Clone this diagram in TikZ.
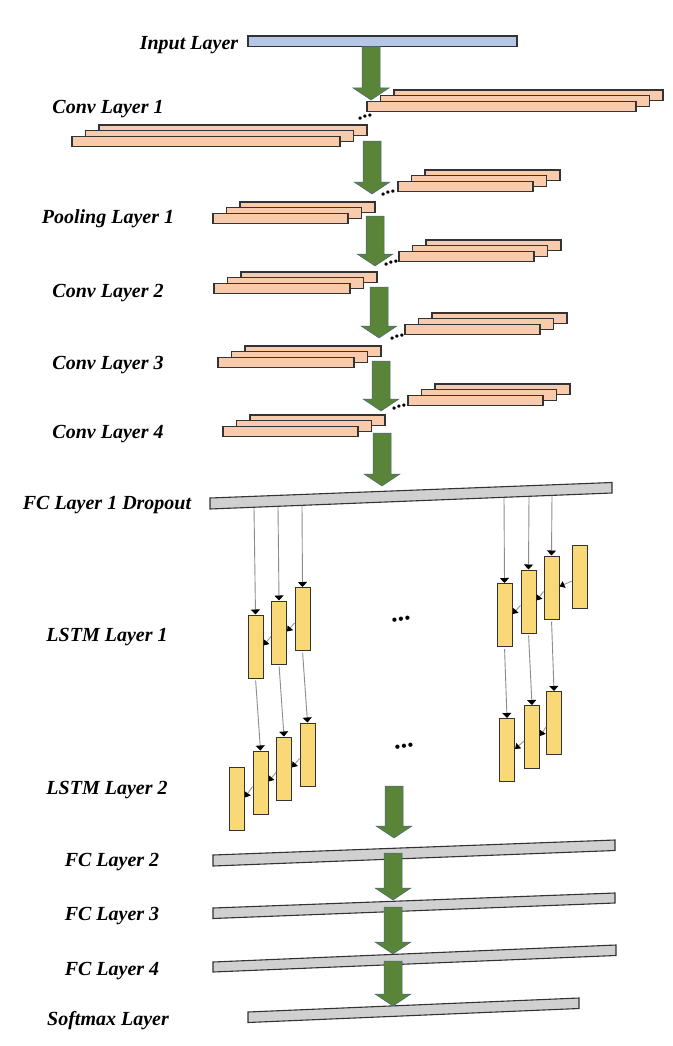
\documentclass[tikz,border=0pt]{standalone}
\usepackage{fontspec}
\setmainfont{Liberation Serif}
\usetikzlibrary{calc,arrows.meta}
\definecolor{peachc}{HTML}{F8CBAD}
\definecolor{bluec}{HTML}{B4C7E7}
\definecolor{grayc}{HTML}{D0D0D0}
\definecolor{cellc}{HTML}{F9D878}
\definecolor{edgec}{HTML}{333333}
\definecolor{greenc}{HTML}{5A8538}
\definecolor{gedgec}{HTML}{4A6486}
\newcommand\convstack[3]{%
  \draw[convbar] (#1+27,#2) rectangle ++(#3,10.5);
  \draw[convbar] (#1+13.5,#2+5.7) rectangle ++(#3,10.5);
  \draw[convbar] (#1,#2+11.4) rectangle ++(#3,10.5);}
\newcommand\garrow[2]{%
  \filldraw[garrowst] ($(#1)+(-9,0)$) -- ($(#2)+(-9,-12)$) -- ($(#2)+(-18,-12)$) -- (#2)
    -- ($(#2)+(18,-12)$) -- ($(#2)+(9,-12)$) -- ($(#1)+(9,0)$) -- cycle;}
\begin{document}
\begin{tikzpicture}[x=1pt,y=-1pt,
  lbl/.style={font=\fontsize{20}{24}\selectfont\bfseries\itshape, inner sep=0pt},
  convbar/.style={fill=peachc, draw=edgec, line width=1.1pt},
  graybar/.style={fill=grayc, draw=edgec, line width=1.1pt},
  garrowst/.style={fill=greenc, draw=gedgec, line width=0.5pt},
  cell/.style={rectangle, fill=cellc, draw=edgec, line width=1pt, minimum width=15pt, minimum height=63pt, inner sep=0pt},
  varrow/.style={draw=black!45, line width=0.9pt, -{Triangle[width=9pt,length=5pt,color=black]}},
  darrow/.style={draw=black!40, line width=0.9pt, -{Triangle[width=7pt,length=5pt,color=black]}},
  dots/.style={font=\fontsize{20}{20}\selectfont\bfseries, inner sep=0pt, rotate=14},
  bigdots/.style={font=\fontsize{26}{26}\selectfont\bfseries, inner sep=0pt, rotate=10}
]
\useasboundingbox (0,0) rectangle (672,1046);
\fill[white] (0,0) rectangle (672,1046);

% labels
\node[lbl] (lin) at (189,45) {Input Layer};
\node[lbl] (lc1) at (108,109) {Conv Layer 1};
\node[lbl] (lp1) at (108,219) {Pooling Layer 1};
\node[lbl] (lc2) at (108,293) {Conv Layer 2};
\node[lbl] (lc3) at (108,365) {Conv Layer 3};
\node[lbl] (lc4) at (108,434) {Conv Layer 4};
\node[lbl] (lfc1) at (107,505) {FC Layer 1 Dropout};
\node[lbl] (ll1) at (107,637) {LSTM Layer 1};
\node[lbl] (ll2) at (107,790) {LSTM Layer 2};
\node[lbl] (lfc2) at (112,862) {FC Layer 2};
\node[lbl] (lfc3) at (112,916) {FC Layer 3};
\node[lbl] (lfc4) at (112,971) {FC Layer 4};
\node[lbl] (lsm) at (108,1021) {Softmax Layer};

% input bar
\draw[fill=bluec, draw=edgec, line width=1.1pt] (248,36) rectangle (517,46.5);

% conv stacks
\convstack{367}{90}{269}
\convstack{72}{125}{268}
\convstack{398}{170}{135}
\convstack{213}{202}{135}
\convstack{399}{240}{135}
\convstack{214}{272}{136}
\convstack{405}{313}{135}
\convstack{218}{346}{136}
\convstack{408}{384}{135}
\convstack{223}{415}{135}

% dots between stacks
\node[dots] (d1) at (365,117) {...};
\node[dots] (d2) at (388,193) {...};
\node[dots] (d3) at (391,263) {...};
\node[dots] (d4) at (397,337) {...};
\node[dots] (d5) at (399,407) {...};

% FC bars
\draw[graybar] (210,498) -- (612,482.5) -- (612,493) -- (210,509) -- cycle;
\draw[graybar] (213,855) -- (615,840) -- (615,850.5) -- (213,866) -- cycle;
\draw[graybar] (213,908) -- (615,893) -- (615,903) -- (213,918.5) -- cycle;
\draw[graybar] (213,962) -- (616,945) -- (616,955.5) -- (213,972) -- cycle;
\draw[graybar] (248,1012) -- (579,998) -- (579,1008.5) -- (248,1022.5) -- cycle;

% LSTM layer 1
\node[cell] (a) at (255.5,646.5) {};
\node[cell] (b) at (279,632.5) {};
\node[cell] (c) at (302.5,619) {};
\node[cell] (d) at (504.5,615) {};
\node[cell] (e) at (528.5,601.5) {};
\node[cell] (f) at (551.5,587.5) {};
\node[cell] (g) at (580,577) {};
% LSTM layer 2
\node[cell] (h) at (237,798.5) {};
\node[cell] (i) at (260.5,782.5) {};
\node[cell] (j) at (284,768.5) {};
\node[cell] (k) at (307.5,754.5) {};
\node[cell] (l) at (507,750) {};
\node[cell] (m) at (532,737) {};
\node[cell] (n) at (554,723) {};

\node[bigdots] (e1) at (401,619) {...};
\node[bigdots] (e2) at (404,746) {...};

% taps on FC1 bar
\coordinate (ta) at (254,507.5);
\coordinate (tb) at (278,506.5);
\coordinate (tc) at (302,505.5);
\coordinate (td) at (504,497.5);
\coordinate (te) at (529,496.5);
\coordinate (tf) at (552,495.5);
\draw[varrow] (ta) -- (a.north);
\draw[varrow] (tb) -- (b.north);
\draw[varrow] (tc) -- (c.north);
\draw[varrow] (td) -- (d.north);
\draw[varrow] (te) -- (e.north);
\draw[varrow] (tf) -- (f.north);

% layer 1 -> layer 2
\draw[varrow, shorten <=2pt] (a.south) -- (i.north);
\draw[varrow, shorten <=2pt] (b.south) -- (j.north);
\draw[varrow, shorten <=2pt] (c.south) -- (k.north);
\draw[varrow, shorten <=2pt] (d.south) -- (l.north);
\draw[varrow, shorten <=2pt] (e.south) -- (m.north);
\draw[varrow, shorten <=2pt] (f.south) -- (n.north);

% recurrent arrows
\draw[darrow] ([yshift=-4pt]b.west) -- ([yshift=1pt]a.east);
\draw[darrow] ([yshift=-4pt]c.west) -- ([yshift=1pt]b.east);
\draw[darrow] ([yshift=-4pt]e.west) -- ([yshift=1pt]d.east);
\draw[darrow] ([yshift=-4pt]f.west) -- ([yshift=1pt]e.east);
\draw[darrow] ([yshift=-4pt]g.west) -- ([yshift=1pt]f.east);
\draw[darrow] ([yshift=-4pt]i.west) -- ([yshift=1pt]h.east);
\draw[darrow] ([yshift=-4pt]j.west) -- ([yshift=1pt]i.east);
\draw[darrow] ([yshift=-4pt]k.west) -- ([yshift=1pt]j.east);
\draw[darrow] ([yshift=-4pt]m.west) -- ([yshift=1pt]l.east);
\draw[darrow] ([yshift=-4pt]n.west) -- ([yshift=1pt]m.east);

% green arrows
\coordinate (g1s) at (371,46.5);  \coordinate (g1e) at (371,100);
\coordinate (g2s) at (372,141);   \coordinate (g2e) at (372,194);
\coordinate (g3s) at (375,216);   \coordinate (g3e) at (375,266);
\coordinate (g4s) at (379,287);   \coordinate (g4e) at (379,338);
\coordinate (g5s) at (381,361);   \coordinate (g5e) at (381,411);
\coordinate (g6s) at (382,433);   \coordinate (g6e) at (382,486);
\coordinate (g7s) at (394,786);   \coordinate (g7e) at (394,838);
\coordinate (g8s) at (393,853);   \coordinate (g8e) at (393,900);
\coordinate (g9s) at (393,907);   \coordinate (g9e) at (393,954);
\coordinate (g10s) at (393,961);  \coordinate (g10e) at (393,1006);
\garrow{g1s}{g1e}
\garrow{g2s}{g2e}
\garrow{g3s}{g3e}
\garrow{g4s}{g4e}
\garrow{g5s}{g5e}
\garrow{g6s}{g6e}
\garrow{g7s}{g7e}
\garrow{g8s}{g8e}
\garrow{g9s}{g9e}
\garrow{g10s}{g10e}
\end{tikzpicture}
\end{document}
